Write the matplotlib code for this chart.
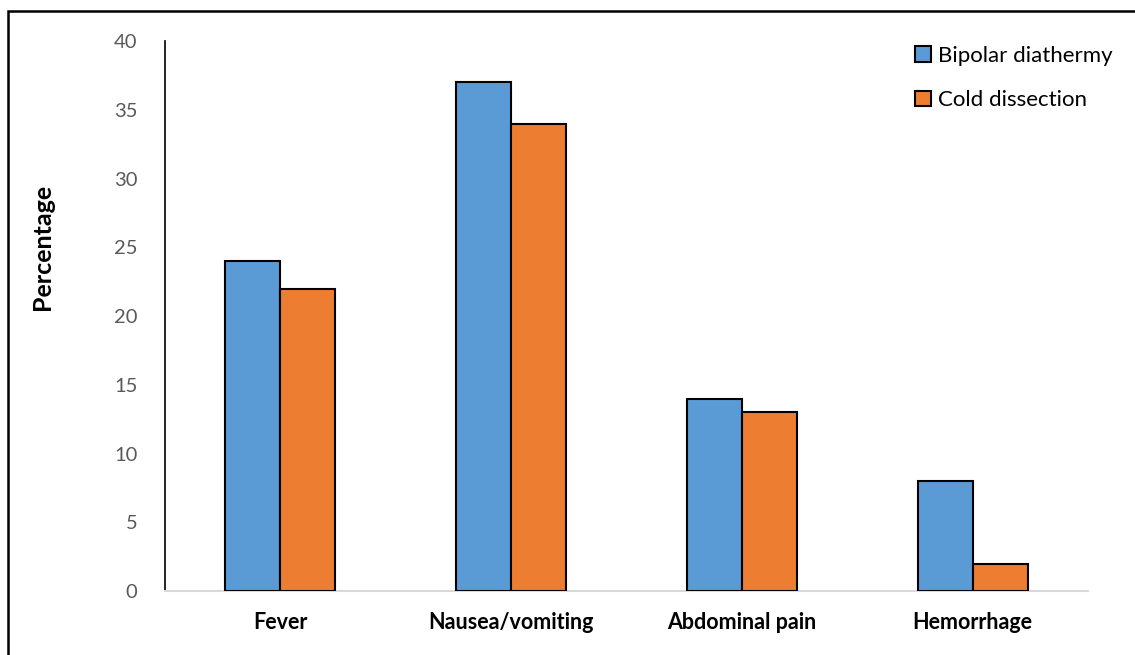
import numpy as np
import matplotlib.pyplot as plt
from matplotlib.patches import Rectangle

categories = ["Fever", "Nausea/vomiting", "Abdominal pain", "Hemorrhage"]
bipolar = [24, 37, 14, 8]
cold = [22, 34, 13, 2]
series_names = ["Bipolar diathermy", "Cold dissection"]
yticks = [0, 5, 10, 15, 20, 25, 30, 35, 40]

plt.rcParams['font.family'] = ['Lato', 'DejaVu Sans']

fig = plt.figure(figsize=(11.35, 6.55), dpi=100)
ax = fig.add_axes([0.1454, 0.0977, 0.8132, 0.8397])

x = np.arange(len(categories))
w = 0.238
ax.bar(x - w / 2, bipolar, w, color='#5B9BD5', edgecolor='black', linewidth=1.5,
       label=series_names[0], zorder=3)
ax.bar(x + w / 2, cold, w, color='#ED7D31', edgecolor='black', linewidth=1.5,
       label=series_names[1], zorder=3)

ax.set_xlim(-0.5, len(categories) - 0.5)
ax.set_ylim(0, 40)
ax.set_yticks(yticks)
ax.set_xticks(x)
ax.set_xticklabels(categories, fontsize=15.5, fontweight='bold')
ax.tick_params(axis='y', length=0, pad=20, labelsize=14.5, labelcolor='#595959')
ax.tick_params(axis='x', length=0, pad=15)

for s in ['top', 'right']:
    ax.spines[s].set_visible(False)
ax.spines['left'].set_color('black')
ax.spines['left'].set_linewidth(1.2)
ax.spines['bottom'].set_color('#D9D9D9')
ax.spines['bottom'].set_linewidth(1.5)

ax.set_ylabel("Percentage", fontsize=18, fontweight='bold')
ax.yaxis.set_label_coords(-0.12, 0.625)

leg = ax.legend(loc='upper right', bbox_to_anchor=(1.048, 1.028), frameon=False,
                fontsize=16, handlelength=0.7, handleheight=0.7,
                handletextpad=0.3, labelspacing=1.12)

# outer frame (right and bottom cut off)
fig.patches.append(Rectangle((8 / 1135, -0.1), 1.2, (655 - 11) / 655 + 0.1,
                             transform=fig.transFigure, fill=False,
                             edgecolor='black', linewidth=1.8))

fig.savefig("out.png", dpi=100)
